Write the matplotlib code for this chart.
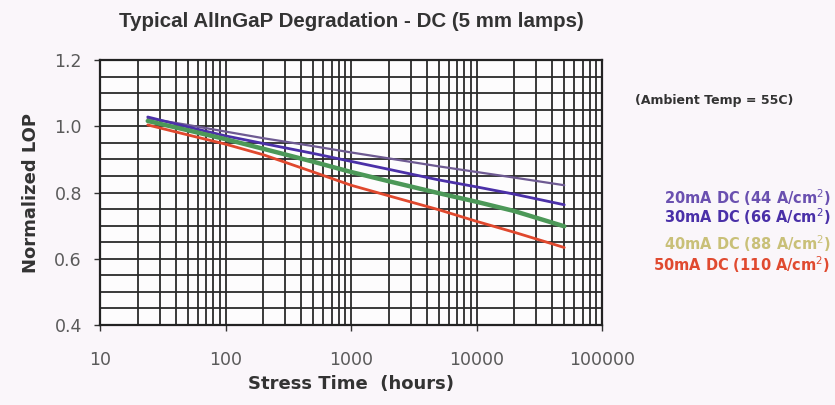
import numpy as np
import matplotlib
matplotlib.use("Agg")
import matplotlib.pyplot as plt
from matplotlib.ticker import LogLocator, FixedLocator, NullFormatter

plt.rcParams['font.family'] = ['DejaVu Sans']

# stress time (hours) and normalized light output per drive current
hours = [24, 50, 100, 200, 500, 1000, 2000, 5000, 10000, 20000, 50000]
lop_20ma = [1.024, 1.004, 0.984, 0.964, 0.940, 0.921, 0.903, 0.879, 0.862, 0.845, 0.822]
lop_30ma = [1.028, 0.998, 0.971, 0.948, 0.918, 0.894, 0.870, 0.838, 0.817, 0.795, 0.763]
lop_40ma = [1.016, 0.988, 0.961, 0.932, 0.893, 0.862, 0.834, 0.798, 0.772, 0.744, 0.698]
lop_50ma = [1.004, 0.974, 0.946, 0.914, 0.862, 0.822, 0.790, 0.748, 0.713, 0.680, 0.634]

labels = ["20mA DC (44 A/cm$^2$)", "30mA DC (66 A/cm$^2$)",
          "40mA DC (88 A/cm$^2$)", "50mA DC (110 A/cm$^2$)"]
line_colors = ["#6e5a92", "#4b30a8", "#4c9858", "#e0482e"]
text_colors = ["#6a50b0", "#4a30a8", "#c9c078", "#e04a30"]
widths = [1.6, 2.0, 3.2, 2.0]
x_ticks = [10, 100, 1000, 10000, 100000]
y_ticks = [0.4, 0.6, 0.8, 1.0, 1.2]

fig = plt.figure(figsize=(8.35, 4.05), dpi=100, facecolor="#faf6fa")
ax = fig.add_axes([0.1198, 0.1975, 0.6012, 0.6543])
ax.set_facecolor("#fdfcfd")

ax.set_xscale("log")
ax.set_xlim(10, 100000)
ax.set_ylim(0.4, 1.2)

# grid: every log minor line and every 0.05 on y
ax.xaxis.set_major_locator(FixedLocator(x_ticks))
ax.xaxis.set_minor_locator(LogLocator(base=10, subs=np.arange(2, 10)))
ax.xaxis.set_minor_formatter(NullFormatter())
ax.set_xticklabels([str(t) for t in x_ticks])
ax.set_yticks(y_ticks)
ax.set_yticklabels(["0.4", "0.6", "0.8", "1.0", "1.2"])
ax.yaxis.set_minor_locator(FixedLocator(np.arange(0.4, 1.2001, 0.05)))
ax.grid(which="both", axis="both", color="#2a2a2a", lw=1.3)
ax.tick_params(which="minor", length=0)
ax.tick_params(which="major", length=4, width=1.0, color="#333333",
               labelsize=12.5, labelcolor="#5a5a5a")
ax.tick_params(axis="x", pad=15)
ax.tick_params(axis="y", pad=9)
for s in ax.spines.values():
    s.set_color("#222222")
    s.set_linewidth(1.6)

series = [lop_20ma, lop_30ma, lop_40ma, lop_50ma]
for vals, c, w in zip(series, line_colors, widths):
    ax.plot(hours, vals, color=c, lw=w, solid_capstyle="round", zorder=3)

ax.set_title("Typical AlInGaP Degradation - DC (5 mm lamps)", fontsize=14.8,
             fontweight="bold", color="#333333", pad=24,
             family=["Liberation Sans", "DejaVu Sans"])
ax.set_xlabel("Stress Time  (hours)", fontsize=13, fontweight="bold",
              color="#333333", labelpad=4)
ax.set_ylabel("Normalized LOP", fontsize=13, fontweight="bold",
              color="#333333", labelpad=10)

fig.text(0.95, 0.752, "(Ambient Temp = 55C)", fontsize=9, fontweight="bold",
         color="#333333", ha="right", va="center")
label_y = [0.513, 0.464, 0.398, 0.346]
for txt, c, y in zip(labels, text_colors, label_y):
    fig.text(0.995, y, txt, fontsize=10.5, fontweight="bold", color=c,
             ha="right", va="center")

fig.savefig("out.png", dpi=100, facecolor=fig.get_facecolor())
